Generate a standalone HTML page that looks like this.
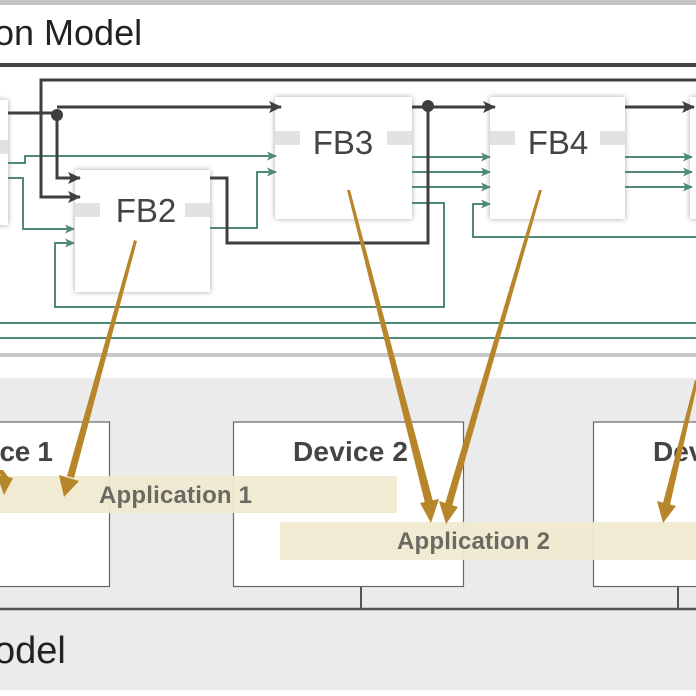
<!DOCTYPE html>
<html><head><meta charset="utf-8"><style>
html,body{margin:0;padding:0;background:#fff;width:696px;height:696px;overflow:hidden}
svg{display:block}
text{font-family:"Liberation Sans",sans-serif}
</style></head><body>
<svg width="696" height="696" viewBox="0 0 696 696" xmlns="http://www.w3.org/2000/svg">
<defs>
<filter id="sh" x="-20%" y="-20%" width="140%" height="140%"><feGaussianBlur in="SourceAlpha" stdDeviation="3"/><feComponentTransfer><feFuncA type="linear" slope="0.35"/></feComponentTransfer><feMerge><feMergeNode/><feMergeNode in="SourceGraphic"/></feMerge></filter>
<marker id="ad" markerWidth="13" markerHeight="12" refX="12" refY="6" orient="auto" markerUnits="userSpaceOnUse"><path d="M0,0 L13,6 L0,12 L3,6 z" fill="#3f3f3f"/></marker>
<marker id="ag" markerWidth="10" markerHeight="9" refX="9" refY="4.5" orient="auto" markerUnits="userSpaceOnUse"><path d="M0,0 L10,4.5 L0,9 L2.5,4.5 z" fill="#4e8a74"/></marker>
</defs>
<rect x="0" y="0" width="696" height="5" fill="#c4c4c4"/>
<text x="-6" y="45" font-size="36" fill="#222">on Model</text>
<rect x="0" y="63" width="696" height="4" fill="#444"/>
<g filter="url(#sh)" fill="#fff">
<rect x="-20" y="100" width="28" height="125"/>
<rect x="75" y="170" width="135" height="122"/>
<rect x="275" y="97" width="137" height="122"/>
<rect x="490" y="97" width="135" height="122"/>
<rect x="690" y="97" width="20" height="122"/>
</g>
<g fill="#e2e2e2">
<rect x="75" y="203" width="25" height="14"/><rect x="185" y="203" width="25" height="14"/>
<rect x="275" y="131" width="25" height="14"/><rect x="387" y="131" width="25" height="14"/>
<rect x="490" y="131" width="25" height="14"/><rect x="600" y="131" width="25" height="14"/>
<rect x="0" y="140" width="8" height="14"/>
</g>
<g font-size="33" fill="#444" text-anchor="middle">
<text x="146" y="222">FB2</text><text x="343" y="154">FB3</text><text x="558" y="154">FB4</text>
</g>
<g stroke="#4e8a74" stroke-width="2" fill="none">
<path d="M8,163 H25 V156 H276" marker-end="url(#ag)"/>
<path d="M8,178 H23 V229 H74" marker-end="url(#ag)"/>
<path d="M412,203 H444 V307 H55 V243 H74" marker-end="url(#ag)"/>
<path d="M210,228 H257 V172 H276" marker-end="url(#ag)"/>
<path d="M412,157 H490" marker-end="url(#ag)"/>
<path d="M412,172 H490" marker-end="url(#ag)"/>
<path d="M412,187 H490" marker-end="url(#ag)"/>
<path d="M696,237 H473 V204 H490" marker-end="url(#ag)"/>
<path d="M625,157 H692" marker-end="url(#ag)"/>
<path d="M625,172 H692" marker-end="url(#ag)"/>
<path d="M625,187 H692" marker-end="url(#ag)"/>
<path d="M0,323 H696 M0,338 H696"/>
</g>
<g stroke="#3f3f3f" stroke-width="3" fill="none">
<path d="M696,80 H41 V197 H80" marker-end="url(#ad)"/>
<path d="M8,113 H57 V178 H80" marker-end="url(#ad)"/>
<path d="M57,107 H281" marker-end="url(#ad)"/>
<path d="M210,178 H227 V243 H428 V107"/>
<path d="M412,107 H495" marker-end="url(#ad)"/>
<path d="M625,107 H694" marker-end="url(#ad)"/>
</g>
<circle cx="57" cy="115" r="6" fill="#3f3f3f"/>
<circle cx="428" cy="106" r="6" fill="#3f3f3f"/>
<rect x="0" y="353" width="696" height="4" fill="#c8c8c8"/>
<rect x="0" y="378" width="696" height="312" fill="#ebebeb"/>
<g fill="#fff" stroke="#666" stroke-width="1.2">
<rect x="-10" y="422" width="119.5" height="164.5"/>
<rect x="233.5" y="422" width="230" height="164.5"/>
<rect x="593.5" y="422" width="120" height="164.5"/>
</g>
<g stroke="#555" stroke-width="2.5"><path d="M0,609 H696"/><path d="M361,587 V609 M678,587 V609" stroke-width="2"/></g>
<g font-size="28" font-weight="bold" fill="#444">
<text x="-8" y="461" textLength="61">ice 1</text><text x="293" y="461" textLength="115">Device 2</text><text x="653" y="461">Dev</text>
</g>
<rect x="0" y="476" width="397" height="37" fill="#efead0" opacity="0.95"/>
<rect x="280" y="522" width="416" height="38" fill="#efead0" opacity="0.95"/>
<g font-size="24" font-weight="bold" fill="#6a6a62">
<text x="99" y="503" textLength="153">Application 1</text><text x="397" y="549" textLength="153">Application 2</text>
</g>
<text x="-6" y="663" font-size="38" fill="#222">odel</text>
<g fill="#b8862a">
<polygon points="134,240 137,241 74,478 67,476"/><polygon points="59,475 79,481 64,497"/>
<polygon points="347,190 350,190 434,505 426,507"/><polygon points="420,503 439,499 431,523"/>
<polygon points="539,190 542,190 452,506 445,504"/><polygon points="439,501 458,507 446,524"/>
<polygon points="695,380 698,381 670,505 663,503"/><polygon points="657,501 676,506 663,523"/>
<polygon points="-2,470 3,470 9,478 2,478"/><polygon points="-3,475 13,478 4,495"/>
</g>
</svg>
</body></html>
